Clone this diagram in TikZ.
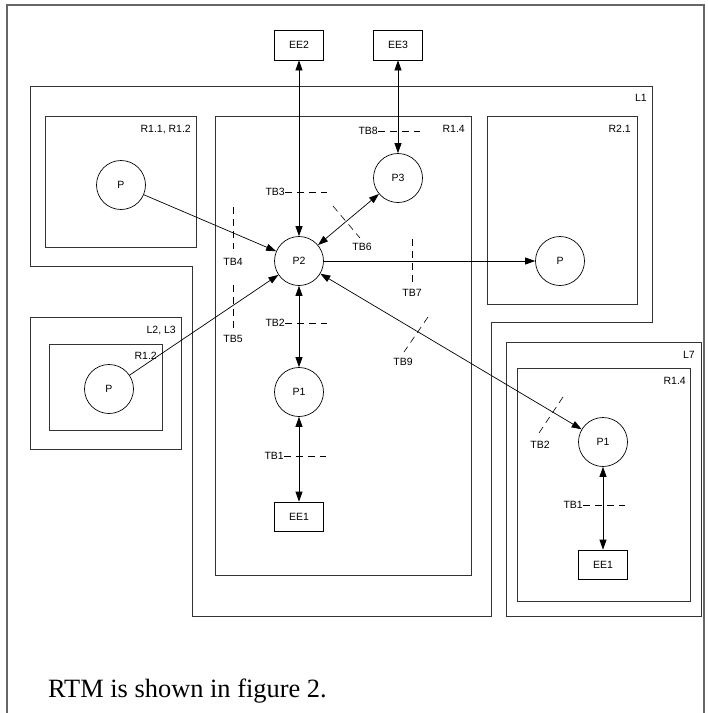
\documentclass[tikz,border=0pt]{standalone}
\usepackage{fontspec}
\setmainfont{Liberation Serif}
\setsansfont{Liberation Sans}
\usepackage{tikz}
\usetikzlibrary{arrows.meta,positioning,calc}
\newcommand\lblfont{\fontsize{10.5}{12}\selectfont\sffamily}
\tikzset{
  >={Triangle[length=10pt,width=7pt]},
  zone/.style={draw=black!80,line width=0.9pt},
  proc/.style={circle,draw,line width=0.7pt,minimum size=49pt,inner sep=0pt,font=\lblfont},
  ext/.style={rectangle,draw,line width=0.7pt,minimum width=49pt,minimum height=30pt,inner sep=0pt,font=\lblfont},
  zlab/.style={anchor=base east,inner sep=0pt,font=\lblfont},
  tblab/.style={inner sep=0pt,font=\lblfont},
  tb/.style={draw,dash pattern=on 7pt off 5pt,line width=0.6pt},
  arr/.style={line width=0.7pt},
}
\begin{document}
\begin{tikzpicture}[x=1pt,y=-1pt]
\fill[white] (0,0) rectangle (708,713);
\useasboundingbox (0,0) rectangle (708,713);
% frame and zones
\draw[zone,black!60,line width=1.2pt] (7,713) -- (7,5) -- (704,5) -- (704,713);
\draw[zone] (30,86) -- (652,86) -- (652,322) -- (491,322) -- (491,616) -- (192,616) -- (192,266) -- (30,266) -- cycle;
\node[zlab] at (647,101) {L1};
\draw[zone] (45,116) rectangle (196,247);
\node[zlab] at (191,132) {R1.1, R1.2};
\draw[zone] (215,116) rectangle (471,575);
\node[zlab] at (465,132) {R1.4};
\draw[zone] (487,116) rectangle (637,304);
\node[zlab] at (631,132) {R2.1};
\draw[zone] (30,317) rectangle (181,449);
\node[zlab] at (176,333) {L2, L3};
\draw[zone] (49,344) rectangle (162,430);
\node[zlab] at (157,359) {R1.2};
\draw[zone] (506,342) rectangle (701,616);
\node[zlab] at (695,358) {L7};
\draw[zone] (517,368) rectangle (690,601);
\node[zlab] at (686,384) {R1.4};

% processes and external entities
\node[ext] (ee2) at (299,45) {EE2};
\node[ext] (ee3) at (398,45) {EE3};
\node[proc] (p2) at (299,261) {P2};
\node[proc] (p3) at (398,178) {P3};
\node[proc] (pa) at (121,185) {P};
\node[proc] (pb) at (560,261) {P};
\node[proc] (pc) at (109,389) {P};
\node[proc] (p1) at (299,392) {P1};
\node[ext,minimum height=29pt] (ee1) at (299,516.5) {EE1};
\node[proc] (p1r) at (603,442) {P1};
\node[ext,minimum height=29pt] (ee1r) at (603,564.5) {EE1};

\draw[arr,<->] (ee2) -- (p2);
\draw[arr,<->] (ee3) -- (p3);
\draw[arr,->] (pa) -- (p2);
\draw[arr,<->] (p3) -- (p2);
\draw[arr,->] (p2) -- (pb);
\draw[arr,->] (pc) -- (p2);
\draw[arr,<->] (p2) -- (p1);
\draw[arr,<->] (p1) -- (ee1);
\draw[arr,<->] (p2) -- (p1r);
\draw[arr,<->] (p1r) -- (ee1r);

% trust boundaries
\node[tblab,anchor=east] (tb3) at (285,192) {TB3};
\draw[tb] (tb3.east) -- ++(42,0);
\node[tblab,anchor=east] (tb2) at (285,323) {TB2};
\draw[tb] (tb2.east) -- ++(42,0);
\node[tblab,anchor=east] (tb1) at (284,456) {TB1};
\draw[tb] (tb1.east) -- ++(42,0);
\node[tblab,anchor=east] (tb8) at (378,131) {TB8};
\draw[tb] (tb8.east) -- ++(42,0);
\node[tblab,anchor=east] (tb1r) at (583,505) {TB1};
\draw[tb] (tb1r.east) -- ++(42,0);
\draw[tb] (233,207) -- (233,249);
\node[tblab] (tb4) at (233,262) {TB4};
\draw[tb] (233,285) -- (233,328);
\node[tblab] (tb5) at (233,339) {TB5};
\draw[tb] (333,206) -- (360,238);
\node[tblab] (tb6) at (362,247) {TB6};
\draw[tb] (412,239) -- (412,282);
\node[tblab] (tb7) at (412,293) {TB7};
\draw[tb] (428,317) -- (404,352);
\node[tblab] (tb9) at (403,362) {TB9};
\draw[tb] (563,397) -- (539,433);
\node[tblab] (tb2r) at (540,445) {TB2};

\node[anchor=base west,inner sep=0pt,font=\fontsize{26.4}{30}\selectfont] (cap) at (48,697) {RTM is shown in figure 2.};
\end{tikzpicture}
\end{document}
